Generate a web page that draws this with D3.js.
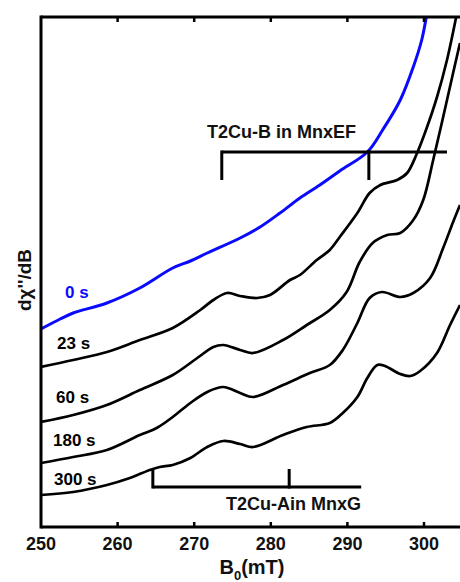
<!DOCTYPE html>
<html>
<head>
<meta charset="utf-8">
<script src="https://cdn.jsdelivr.net/npm/d3@7/dist/d3.min.js"></script>
<style>
html,body{margin:0;padding:0;background:#fff;}
text{font-family:"Liberation Sans",Arial,sans-serif;font-weight:bold;}
</style>
</head>
<body>
<svg id="chart" width="460" height="582"></svg>
<script>
// Magnetic field (mT) and derivative intensity (arbitrary units)
const series0 = [[250.0,199],[252.5,209],[254.2,215],[258.6,225],[262.9,240],[267.2,260],[269.5,267],[271.7,275],[276.0,290],[278.6,301],[281.2,315],[283.8,330],[286.4,343],[289.0,357],[292.6,376],[294.6,398],[296.9,428],[298.6,461],[299.7,488],[300.3,511]];
const series23 = [[250.0,161],[254.2,168],[258.6,176],[262.9,188],[267.2,200],[270.8,218],[272.5,228],[274.3,235],[276.0,232],[278.2,230],[279.9,233],[282.5,248],[283.8,253],[286.0,268],[287.7,278],[289.0,291],[291.3,315],[292.9,335],[294.3,343],[296.5,348],[297.8,355],[299.1,375],[300.4,401],[301.7,431],[303.0,468],[304.2,511]];
const series60 = [[250.0,106],[254.2,113],[258.6,123],[262.9,138],[267.2,153],[270.4,170],[272.5,181],[273.8,183],[276.0,178],[277.7,175],[281.6,188],[284.7,203],[287.7,218],[289.9,236],[291.6,266],[293.3,285],[295.2,293],[296.9,295],[298.6,308],[299.9,328],[301.2,368],[302.5,411],[303.8,455],[304.7,485]];
const series180 = [[250.0,65],[254.2,71],[258.6,78],[262.9,93],[265.1,100],[267.2,111],[269.5,125],[271.7,136],[273.8,141],[276.0,135],[277.7,131],[281.6,143],[285.1,155],[287.7,163],[289.4,178],[291.3,205],[292.9,230],[294.5,236],[296.9,231],[298.6,235],[300.8,250],[302.5,280],[303.8,306],[304.7,323]];
const series300 = [[250.0,33],[254.2,36],[258.6,43],[261.6,50],[264.2,58],[265.5,61],[267.2,63],[269.5,70],[271.7,81],[273.8,87],[276.0,84],[277.7,81],[281.6,93],[284.7,101],[287.7,105],[289.4,115],[291.3,131],[292.6,150],[293.9,163],[294.9,162],[296.9,154],[298.2,152],[299.5,157],[301.7,175],[303.4,203],[304.7,223]];
const seriesLabels = ["0 s","23 s","60 s","180 s","300 s"];
const xTicks = [250,260,270,280,290,300];
// Stick-diagram markers (mT) and their end field
const t2cuBMarks = [273.6,292.8];
const t2cuBEnd = 303.0;
const t2cuAMarks = [264.6,282.4];
const t2cuAEnd = 291.8;
const t2cuBLabel = "T2Cu-B in MnxEF";
const t2cuALabel = "T2Cu-Ain MnxG";

const svg = d3.select("#chart");
const L = 41, R = 460, T = 17, B = 527;
const x = d3.scaleLinear().domain([250,300]).range([L,424]);
const y = d3.scaleLinear().domain([0,511]).range([528,17]);

svg.append("defs").append("clipPath").attr("id","clip")
  .append("rect").attr("x",L).attr("y",T).attr("width",R-L).attr("height",B-T);

const line = d3.line().x(d=>x(d[0])).y(d=>y(d[1])).curve(d3.curveCatmullRom.alpha(0.5));
const all = [series0,series23,series60,series180,series300];
const colors = ["#0a0aff","#000","#000","#000","#000"];
const g = svg.append("g").attr("clip-path","url(#clip)");
all.forEach((s,i)=>{
  g.append("path").attr("d",line(s)).attr("fill","none")
   .attr("stroke",colors[i]).attr("stroke-width",i===0?3:2.7)
   .attr("stroke-linejoin","round");
});

// labels
const labelPos = [[65,298],[57,349],[56,403],[53,446],[54,485]];
seriesLabels.forEach((t,i)=>{
  svg.append("text").attr("x",labelPos[i][0]).attr("y",labelPos[i][1])
    .attr("font-size",17).attr("fill",i===0?"#0a0aff":"#000").text(t);
});

// axes
svg.append("line").attr("x1",L).attr("x2",R).attr("y1",B).attr("y2",B).attr("stroke","#000").attr("stroke-width",3);
svg.append("line").attr("x1",L).attr("x2",R).attr("y1",T).attr("y2",T).attr("stroke","#000").attr("stroke-width",3);
svg.append("line").attr("x1",L).attr("x2",L).attr("y1",T-1.5).attr("y2",B+1.5).attr("stroke","#000").attr("stroke-width",3);
xTicks.slice(1).forEach(v=>{
  svg.append("line").attr("x1",x(v)).attr("x2",x(v)).attr("y1",B).attr("y2",B-5).attr("stroke","#000").attr("stroke-width",2.5);
  svg.append("line").attr("x1",x(v)).attr("x2",x(v)).attr("y1",T).attr("y2",T+5).attr("stroke","#000").attr("stroke-width",2.5);
});
xTicks.forEach(v=>{
  svg.append("text").attr("x",x(v)).attr("y",550).attr("text-anchor","middle")
    .attr("font-size",18).attr("fill","#111").text(v);
});
const xt = svg.append("text").attr("x",252).attr("y",574).attr("text-anchor","middle").attr("font-size",20).attr("fill","#111");
xt.append("tspan").text("B");
xt.append("tspan").attr("font-size",13).attr("dy",6).text("0");
xt.append("tspan").attr("dy",-6).text("(mT)");

svg.append("text").attr("transform","translate(31,280) rotate(-90)").attr("text-anchor","middle")
  .attr("font-size",19).attr("fill","#111").text("d\u03C7''/dB");

// stick diagrams
function stick(marks,end,level,tipLevel){
  svg.append("line").attr("x1",x(marks[0])).attr("x2",x(end)).attr("y1",y(level)).attr("y2",y(level))
    .attr("stroke","#000").attr("stroke-width",3);
  marks.forEach(m=>{
    svg.append("line").attr("x1",x(m)).attr("x2",x(m)).attr("y1",y(level)+(tipLevel>level?1.5:-1.5)).attr("y2",y(tipLevel))
      .attr("stroke","#000").attr("stroke-width",3);
  });
}
stick(t2cuBMarks,t2cuBEnd,376,348);
stick(t2cuAMarks,t2cuAEnd,41,59);
svg.append("text").attr("x",207).attr("y",138).attr("font-size",18).attr("fill","#111").text(t2cuBLabel);
svg.append("text").attr("x",226).attr("y",510).attr("font-size",18).attr("fill","#111").text(t2cuALabel);
</script>
</body>
</html>
